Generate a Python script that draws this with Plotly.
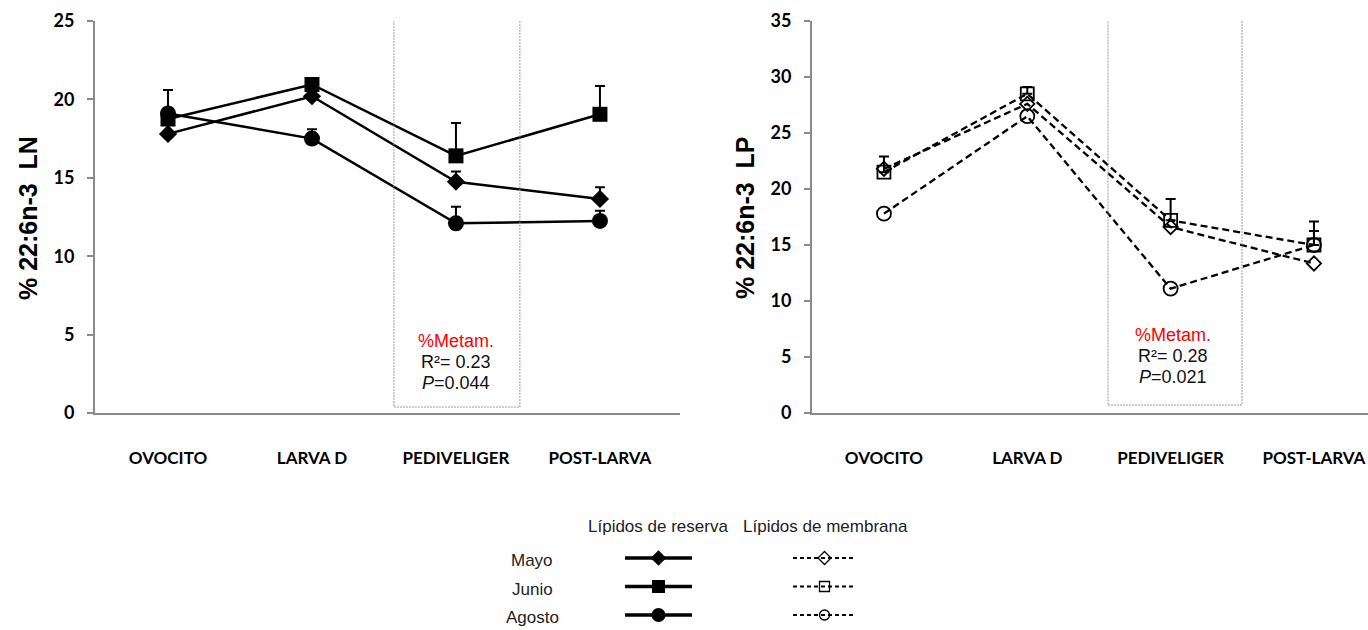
import plotly.graph_objects as go

# Developmental stages (x categories)
stages = ["OVOCITO", "LARVA D", "PEDIVELIGER", "POST-LARVA"]
months = ["Mayo", "Junio", "Agosto"]

# % 22:6n-3 in neutral (reserve) lipids, LN
ln_mayo = [17.8, 20.2, 14.75, 13.65]
ln_junio = [18.75, 20.95, 16.4, 19.05]
ln_agosto = [19.1, 17.5, 12.1, 12.25]
ln_err_mayo = [None, None, 0.65, 0.75]
ln_err_junio = [None, None, 2.1, 1.8]
ln_err_agosto = [1.5, 0.6, 1.05, 0.65]

# % 22:6n-3 in polar (membrane) lipids, LP
lp_mayo = [21.8, 27.6, 16.6, 13.35]
lp_junio = [21.5, 28.5, 17.2, 15.0]
lp_agosto = [17.8, 26.5, 11.1, 15.0]
lp_err_mayo = [None, None, None, None]
lp_err_junio = [1.4, 0.6, 1.9, 2.1]
lp_err_agosto = [None, None, None, 1.25]

# Regression of %Metam. shown inside the pediveliger box
ln_stats = ["%Metam.", "R²= 0.23", "<i>P</i>=0.044"]
lp_stats = ["%Metam.", "R²= 0.28", "<i>P</i>=0.021"]

ln_ticks = [0, 5, 10, 15, 20, 25]
lp_ticks = [0, 5, 10, 15, 20, 25, 30, 35]

W, H = 1368, 630
TICK_FONT = "Lato"
TEXT_FONT = "Liberation Sans, Arial"

xi = list(range(len(stages)))
symbols = {"Mayo": "diamond", "Junio": "square", "Agosto": "circle"}
sizes_res = {"Mayo": 14, "Junio": 15, "Agosto": 16}
sizes_mem = {"Mayo": 11, "Junio": 13, "Agosto": 14}

fig = go.Figure()


def add_errors(vals, errs, xa, ya):
    xs = [i for i, e in zip(xi, errs) if e is not None]
    if not xs:
        return
    ys = [v for v, e in zip(vals, errs) if e is not None]
    es = [e for e in errs if e is not None]
    fig.add_trace(go.Scatter(
        x=xs, y=ys, mode="markers", xaxis=xa, yaxis=ya,
        marker=dict(size=1, color="rgba(0,0,0,0)"),
        error_y=dict(type="data", symmetric=False, array=es,
                     arrayminus=[0] * len(es), color="black",
                     thickness=2, width=5),
        showlegend=False, hoverinfo="skip"))


ln_series = {"Mayo": (ln_mayo, ln_err_mayo), "Junio": (ln_junio, ln_err_junio),
             "Agosto": (ln_agosto, ln_err_agosto)}
lp_series = {"Mayo": (lp_mayo, lp_err_mayo), "Junio": (lp_junio, lp_err_junio),
             "Agosto": (lp_agosto, lp_err_agosto)}

for m in months:
    add_errors(*ln_series[m], "x", "y")
    add_errors(*lp_series[m], "x2", "y2")

for m in months:
    vals = ln_series[m][0]
    fig.add_trace(go.Scatter(
        x=xi, y=vals, mode="lines+markers", xaxis="x", yaxis="y",
        line=dict(color="black", width=2.5),
        marker=dict(symbol=symbols[m], size=sizes_res[m], color="black"),
        showlegend=False, hoverinfo="skip"))

for m in months:
    vals = lp_series[m][0]
    fig.add_trace(go.Scatter(
        x=xi, y=vals, mode="lines+markers", xaxis="x2", yaxis="y2",
        line=dict(color="black", width=2.3, dash="7px,4px"),
        marker=dict(symbol=symbols[m] + "-open", size=sizes_mem[m],
                    color="black", line=dict(width=1.8, color="black")),
        showlegend=False, hoverinfo="skip"))

# Custom legend: one sample line per month and lipid class
for r, m in enumerate(months):
    fig.add_trace(go.Scatter(
        x=[0, 1], y=[r, r], mode="lines", xaxis="x3", yaxis="y3",
        line=dict(color="black", width=3.5),
        showlegend=False, hoverinfo="skip"))
    fig.add_trace(go.Scatter(
        x=[0.5], y=[r], mode="markers", xaxis="x3", yaxis="y3",
        marker=dict(symbol=symbols[m], size=sizes_res[m] - 2, color="black"),
        showlegend=False, hoverinfo="skip"))
    fig.add_trace(go.Scatter(
        x=[0, 1], y=[r, r], mode="lines", xaxis="x4", yaxis="y3",
        line=dict(color="black", width=2, dash="4px,3px"),
        showlegend=False, hoverinfo="skip"))
    fig.add_trace(go.Scatter(
        x=[0.5], y=[r], mode="markers", xaxis="x4", yaxis="y3",
        marker=dict(symbol=symbols[m] + "-open", size=10, color="black",
                    line=dict(width=1.3, color="black")),
        showlegend=False, hoverinfo="skip"))

ydom = [1 - 413 / H, 1 - 21 / H]
axis_line = dict(showline=True, linecolor="#8a8a8a", linewidth=2,
                 showgrid=False, zeroline=False, automargin=False)

yax_common = dict(ticks="outside", ticklen=6, tickwidth=2, tickcolor="#8a8a8a",
                  ticklabelstandoff=9,
                  tickfont=dict(family=TICK_FONT, size=18, color="black", weight="bold"),
                  **axis_line)
xax_common = dict(ticks="", tickvals=xi, ticktext=stages, ticklabelstandoff=29,
                  tickfont=dict(family=TICK_FONT, size=17, color="black", weight="bold"),
                  **axis_line)

fig.update_layout(
    width=W, height=H,
    margin=dict(l=0, r=0, t=0, b=0, pad=0, autoexpand=False),
    paper_bgcolor="white", plot_bgcolor="white",
    xaxis=dict(domain=[95 / W, 680 / W], range=[-0.507, 3.556], anchor="y", **xax_common),
    yaxis=dict(domain=ydom, range=[0, 25], tickvals=ln_ticks, anchor="x", **yax_common),
    xaxis2=dict(domain=[812 / W, 1.0], range=[-0.502, 3.377], anchor="y2", **xax_common),
    yaxis2=dict(domain=ydom, range=[0, 35], tickvals=lp_ticks, anchor="x2", **yax_common),
    xaxis3=dict(domain=[625 / W, 692 / W], range=[0, 1], visible=False, anchor="y3",
                automargin=False),
    xaxis4=dict(domain=[793 / W, 856 / W], range=[0, 1], visible=False, anchor="y3",
                automargin=False),
    yaxis3=dict(domain=[1 - 629.25 / H, 1 - 543.75 / H], range=[2.5, -0.5],
                visible=False, anchor="x3", automargin=False),
)

# Metamorphosis box around the pediveliger stage
ped = stages.index("PEDIVELIGER")
box_line = dict(color="#9a9a9a", width=1, dash="2px,1px")
fig.add_shape(type="rect", xref="x", yref="y", x0=ped - 0.431, x1=ped + 0.444,
              y0=0.38, y1=25.06, line=box_line)
fig.add_shape(type="rect", xref="x2", yref="y2", x0=ped - 0.437, x1=ped + 0.498,
              y0=0.71, y1=35.6, line=box_line)

annotations = []
for (xr, stats, ys) in [("x", ln_stats, [341, 362, 383]), ("x2", lp_stats, [335, 356, 377])]:
    for k, (txt, ypx) in enumerate(zip(stats, ys)):
        annotations.append(dict(
            x=ped + (0 if xr == "x" else 0.02), y=1 - ypx / H, xref=xr, yref="paper",
            text=txt, showarrow=False, xanchor="center", yanchor="middle",
            font=dict(family=TEXT_FONT, size=18, color="red" if k == 0 else "#111")))

# Y-axis titles
for xpx, txt in [(28, "% 22:6n-3 &nbsp;LN"), (745, "% 22:6n-3 &nbsp;LP")]:
    annotations.append(dict(x=xpx / W, y=1 - 218 / H, xref="paper", yref="paper",
                            text=txt, textangle=-90, showarrow=False,
                            xanchor="center", yanchor="middle",
                            font=dict(family=TEXT_FONT, size=25, color="black",
                                      weight="bold")))

# Legend headers and row labels
for xpx, txt in [(658, "Lípidos de reserva"), (826, "Lípidos de membrana")]:
    annotations.append(dict(x=xpx / W, y=1 - 526 / H, xref="paper", yref="paper",
                            text=txt, showarrow=False, xanchor="center", yanchor="middle",
                            font=dict(family=TEXT_FONT, size=17, color="#222")))
for r, m in enumerate(months):
    annotations.append(dict(x=532 / W, y=r + 0.1, xref="paper", yref="y3",
                            text=m, showarrow=False, xanchor="center", yanchor="middle",
                            font=dict(family=TEXT_FONT, size=17, color="#222")))

fig.update_layout(annotations=annotations)

fig.write_html("out.html")
